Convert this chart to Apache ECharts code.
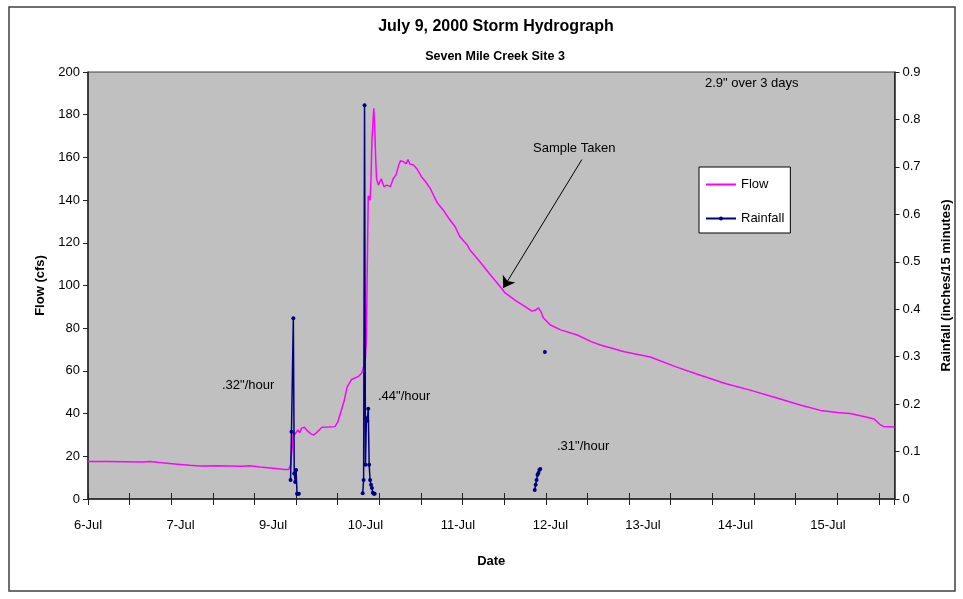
<!DOCTYPE html>
<html>
<head>
<meta charset="utf-8">
<script src="https://cdn.jsdelivr.net/npm/echarts@6/dist/echarts.min.js"></script>
<style>html,body{margin:0;padding:0;background:#fff}#c{width:963px;height:599px}</style>
</head>
<body>
<div id="c"></div>
<script>
// Category index along the date axis (Excel-style category positions)
const dateLabels = ['6-Jul','7-Jul','9-Jul','10-Jul','11-Jul','12-Jul','13-Jul','14-Jul','15-Jul'];
const labelEvery = 100;
const tickEvery = 45;
const axisMaxIdx = 872;

const flowIdx = [0,20,40,60,67,75,85,100,110,121,140,165,175,186,200,213,217,219,221,222,223,225,227,229,231,234,237,241,244,247,249,253,260,267,270,273,277,280,285,292,296,298,300,301,302,303,305,306,307,309,310,311,312,314,317,320,323,327,330,333,336,338,341,344,346,348,352,356,361,365,370,374,378,384,390,397,402,410,413,424,435,446,451,462,473,480,484,487,490,492,500,511,529,544,554,580,608,635,662,690,716,743,770,792,810,824,840,850,856,860,872];
const flowCfs = [17.6,17.6,17.5,17.3,17.6,17.2,16.8,16.2,15.8,15.5,15.6,15.3,15.6,15,14.4,13.8,13.8,16,25,31.5,30,30.2,32.3,31,33.2,33.6,32,30.5,30,31,31.5,33.6,33.7,33.9,36,40.3,46,52.3,56,57.3,59,62,66,75,110,142,140,150,168,183,175,160,150,147,150,146.3,147,146.3,150,151.8,156.4,158.5,158,157,159,156.9,156.4,154.4,150.7,148.6,145.5,141.9,138.5,135.4,131.5,127.5,122.9,119,116.6,111,105,99.3,96.5,93,90,88,88.5,89.5,87.5,85,81.5,79.2,76.8,73.7,72.1,69,66.5,62,58,54,51,47.5,44,41.5,40.5,40,38.5,37.5,35,34,33.7];

// Rainfall (inches / 15 minutes); null breaks the line between events
const rainIdx = [219,220,222,223,224,225,226,227,228, 229, 297,298,299,300,301,302,303,304,305,306,307,308,309,310, 311, 483,484,485,486,487,488,489, 490, 494];
const rainIn  = [0.04,0.142,0.381,0.054,0.036,0.061,0.011,0.011,0.011, null, 0.012,0.04,0.83,0.072,0.17,0.165,0.19,0.072,0.04,0.03,0.023,0.013,0.011,0.011, null, 0.019,0.03,0.04,0.051,0.055,0.061,0.063, null, 0.31];

const sampleFrom = [534, 159];
const sampleTo = [449, 98.8];

const FONT = '"Liberation Sans", Arial, sans-serif';
const chart = echarts.init(document.getElementById('c'), null, {renderer: 'canvas'});

const flowData = flowIdx.map((x, i) => [x, flowCfs[i]]);
const rainData = rainIdx.map((x, i) => [x, rainIn[i] === null ? '-' : rainIn[i]]);

const grid = {left: 88, right: 68.5, top: 72, bottom: 100, show: true, backgroundColor: '#C0C0C0', borderColor: '#404040', borderWidth: 1};
const axisTxt = {color: '#000', fontSize: 13, fontFamily: FONT};

chart.setOption({
  animation: false,
  backgroundColor: '#fff',
  title: [
    {text: 'July 9, 2000 Storm Hydrograph', left: 491, top: 14, textAlign: 'center',
     textStyle: {fontSize: 16, fontWeight: 'bold', color: '#000', fontFamily: FONT}},
    {text: 'Seven Mile Creek Site 3', left: 490, top: 45, textAlign: 'center',
     textStyle: {fontSize: 12.5, fontWeight: 'bold', color: '#000', fontFamily: FONT}}
  ],
  legend: {
    orient: 'vertical', left: 699, top: 167,
    backgroundColor: '#fff', borderColor: '#000', borderWidth: 1, borderRadius: 0,
    padding: [11, 6, 8, 6], itemGap: 21, itemWidth: 30, itemHeight: 5,
    textStyle: {fontSize: 13, fontFamily: FONT, color: '#000'},
    data: [{name: 'Flow', itemStyle: {opacity: 0}}, {name: 'Rainfall'}]
  },
  grid: grid,
  xAxis: [
    {type: 'value', position: 'bottom', min: 0, max: axisMaxIdx, interval: tickEvery,
     name: 'Date', nameLocation: 'middle', nameGap: 56,
     nameTextStyle: {fontSize: 13, fontWeight: 'bold', color: '#000', fontFamily: FONT},
     axisLine: {show: true, onZero: false, lineStyle: {color: '#222', width: 1.5}},
     axisTick: {show: true, length: 6, lineStyle: {color: '#222'}},
     axisLabel: {show: false}, splitLine: {show: false}},
    {type: 'value', position: 'bottom', min: 0, max: axisMaxIdx, interval: tickEvery,
     axisLine: {show: false, onZero: false}, axisTick: {show: true, inside: true, length: 6, lineStyle: {color: '#222'}},
     axisLabel: {show: false}, splitLine: {show: false}},
    {type: 'value', position: 'bottom', min: 0, max: axisMaxIdx, interval: labelEvery,
     axisLine: {show: false, onZero: false}, axisTick: {show: false}, splitLine: {show: false},
     axisLabel: Object.assign({margin: 20, showMaxLabel: false,
       formatter: v => (v % labelEvery === 0 && dateLabels[v / labelEvery]) ? dateLabels[v / labelEvery] : ''}, axisTxt)}
  ],
  yAxis: [
    {type: 'value', min: 0, max: 200, interval: 20, position: 'left',
     name: 'Flow (cfs)', nameLocation: 'middle', nameGap: 40, nameRotate: 90,
     nameTextStyle: {fontSize: 13, fontWeight: 'bold', color: '#000', fontFamily: FONT},
     axisLine: {show: true, onZero: false, lineStyle: {color: '#222', width: 1.5}},
     axisTick: {show: true, length: 5, lineStyle: {color: '#222'}},
     axisLabel: Object.assign({margin: 8}, axisTxt), splitLine: {show: false}},
    {type: 'value', min: 0, max: 0.9, interval: 0.1, position: 'right',
     name: 'Rainfall (inches/15 minutes)', nameLocation: 'middle', nameGap: 45, nameRotate: 90,
     nameTextStyle: {fontSize: 13, fontWeight: 'bold', color: '#000', fontFamily: FONT},
     axisLine: {show: true, onZero: false, lineStyle: {color: '#222', width: 1.5}},
     axisTick: {show: true, length: 5, lineStyle: {color: '#222'}},
     axisLabel: Object.assign({margin: 8, formatter: v => v === 0 ? '0' : (+v).toFixed(1)}, axisTxt),
     splitLine: {show: false}}
  ],
  series: [
    {name: 'Flow', type: 'line', xAxisIndex: 0, yAxisIndex: 0, data: flowData,
     showSymbol: false, symbol: 'none', lineStyle: {color: '#FF00FF', width: 1.5}, itemStyle: {color: '#FF00FF'},
     markLine: {silent: true, symbol: ['none', 'arrow'], symbolSize: 11,
       lineStyle: {color: '#000', width: 1, type: 'solid'}, label: {show: false},
       data: [[{coord: sampleFrom}, {coord: sampleTo}]]}},
    {name: 'Rainfall', type: 'line', xAxisIndex: 0, yAxisIndex: 1, data: rainData,
     connectNulls: false, showSymbol: true, symbol: 'circle', symbolSize: 4,
     lineStyle: {color: '#000080', width: 1.5}, itemStyle: {color: '#000080'}}
  ],
  graphic: [
    {type: 'rect', shape: {x: 9, y: 7, width: 946, height: 584}, style: {fill: 'none', stroke: '#404040', lineWidth: 1.5}, z: 100, silent: true},
    {type: 'text', x: 705, y: 83, style: {text: '2.9" over 3 days', font: '13px ' + FONT, fill: '#000', verticalAlign: 'middle'}},
    {type: 'text', x: 222, y: 385, style: {text: '.32"/hour', font: '13px ' + FONT, fill: '#000', verticalAlign: 'middle'}},
    {type: 'text', x: 378, y: 396, style: {text: '.44"/hour', font: '13px ' + FONT, fill: '#000', verticalAlign: 'middle'}},
    {type: 'text', x: 557, y: 446, style: {text: '.31"/hour', font: '13px ' + FONT, fill: '#000', verticalAlign: 'middle'}},
    {type: 'text', x: 533, y: 148, style: {text: 'Sample Taken', font: '13px ' + FONT, fill: '#000', verticalAlign: 'middle'}}
  ]
});
</script>
</body>
</html>
